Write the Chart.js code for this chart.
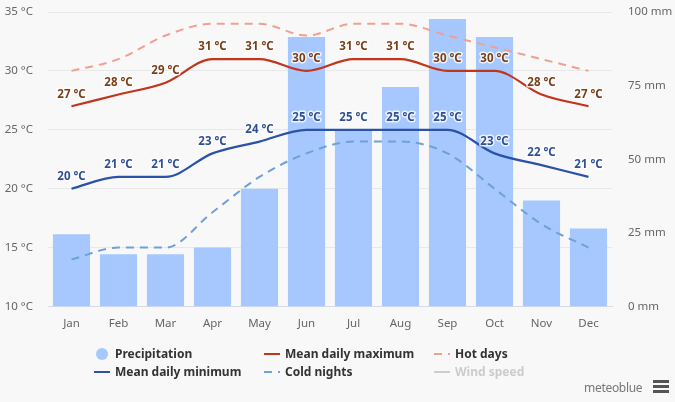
<!DOCTYPE html>
<html>
<head>
<meta charset="utf-8">
<script src="https://cdn.jsdelivr.net/npm/chart.js@4"></script>
<style>
    body { margin: 0; background: #f8f8f8; font-family: 'Noto Sans', sans-serif; }
    #wrap { position: relative; width: 675px; height: 402px; overflow: hidden; }
    canvas { position: absolute; left: 0; top: 0; }
    .item { position: absolute; height: 16px; line-height: 16px; font-size: 12px; font-weight: bold; color: #333; white-space: nowrap; }
    .item svg { position: absolute; left: -21px; top: 0; }
    .off { color: #ccc; }
    #brand { position: absolute; left: 584px; top: 379px; font: 12px 'Noto Sans', sans-serif; letter-spacing: -0.3px; color: #777; }
    #menu { position: absolute; left: 653px; top: 380px; width: 16px; height: 3px; background: #555; box-shadow: 0 5px 0 #555, 0 10px 0 #555; }
</style>
</head>
<body>
<div id="wrap">
    <canvas id="climate" width="675" height="402"></canvas>
    <div class="item" style="left:115px;top:346px"><svg width="20" height="16"><circle cx="8" cy="8" r="6" fill="#a6c8ff"/></svg>Precipitation</div>
    <div class="item" style="left:285px;top:346px"><svg width="20" height="16"><line x1="0" x2="16" y1="8" y2="8" stroke="#c0351c" stroke-width="2"/></svg>Mean daily maximum</div>
    <div class="item" style="left:455px;top:346px"><svg width="20" height="16"><line x1="0" x2="16" y1="8" y2="8" stroke="#f0a090" stroke-width="2" stroke-dasharray="8,6"/></svg>Hot days</div>
    <div class="item" style="left:115px;top:364px"><svg width="20" height="16"><line x1="0" x2="16" y1="8" y2="8" stroke="#2a52a8" stroke-width="2"/></svg>Mean daily minimum</div>
    <div class="item" style="left:285px;top:364px"><svg width="20" height="16"><line x1="0" x2="16" y1="8" y2="8" stroke="#6fa0d8" stroke-width="2" stroke-dasharray="8,6"/></svg>Cold nights</div>
    <div class="item off" style="left:455px;top:364px"><svg width="20" height="16"><line x1="0" x2="16" y1="8" y2="8" stroke="#ccc" stroke-width="2"/></svg>Wind speed</div>
    <div id="brand">meteoblue</div>
    <div id="menu"></div>
</div>
<script>
const months = ['Jan', 'Feb', 'Mar', 'Apr', 'May', 'Jun', 'Jul', 'Aug', 'Sep', 'Oct', 'Nov', 'Dec'];
const precipitation = [24.5, 17.7, 17.7, 20, 40, 91.5, 60, 74.5, 97.6, 91.5, 36, 26.5];
const meanMax = [27, 28, 29, 31, 31, 30, 31, 31, 30, 30, 28, 27];
const meanMin = [20, 21, 21, 23, 24, 25, 25, 25, 25, 23, 22, 21];
const hotDays = [30, 31, 33, 34, 34, 33, 34, 34, 33, 32, 31, 30];
const coldNights = [14, 15, 15, 18, 21, 23, 24, 24, 23, 20, 17, 15];

const tickFont = { family: "'Noto Sans', sans-serif", size: 11.5 };

function lineSet(label, data, color, dashed) {
    return {
        type: 'line',
        label: label,
        data: data,
        yAxisID: 'temp',
        borderColor: color,
        borderWidth: dashed ? 2 : 2.2,
        borderDash: dashed ? [8, 6] : [],
        cubicInterpolationMode: 'monotone',
        pointRadius: 0,
        order: dashed ? 2 : 1,
    };
}

// tick padding also counts as top padding in chart.js, so pin it here
function fitY(width) {
    return function (s) {
        s.width = width;
        s.paddingTop = 12;
        s.paddingBottom = 0;
    };
}

// value labels above the two mean lines, white halo so they read over the bars
const valueLabels = {
    id: 'valueLabels',
    afterDatasetsDraw: function (chart) {
        const ctx = chart.ctx;
        const colors = { 1: '#7a3f17', 3: '#2f4f96' };
        ctx.save();
        ctx.font = "bold 11.5px 'Noto Sans', sans-serif";
        ctx.textAlign = 'center';
        ctx.textBaseline = 'middle';
        ctx.lineJoin = 'round';
        Object.keys(colors).forEach(function (idx) {
            chart.getDatasetMeta(idx).data.forEach(function (pt, i) {
                const text = chart.data.datasets[idx].data[i] + ' °C';
                ctx.strokeStyle = 'rgba(255, 255, 255, 0.8)';
                ctx.lineWidth = 3;
                ctx.strokeText(text, pt.x, pt.y - 12);
                ctx.fillStyle = colors[idx];
                ctx.fillText(text, pt.x, pt.y - 12);
            });
        });
        ctx.restore();
    }
};

new Chart(document.getElementById('climate').getContext('2d'), {
    data: {
        labels: months,
        datasets: [
            {
                type: 'bar',
                label: 'Precipitation',
                data: precipitation,
                yAxisID: 'rain',
                backgroundColor: '#a6c8ff',
                categoryPercentage: 1,
                barPercentage: 0.79,
                order: 3,
            },
            lineSet('Mean daily maximum', meanMax, '#c0351c', false),
            lineSet('Hot days', hotDays, '#f0a090', true),
            lineSet('Mean daily minimum', meanMin, '#2a52a8', false),
            lineSet('Cold nights', coldNights, '#6fa0d8', true),
        ]
    },
    options: {
        responsive: false,
        animation: false,
        layout: { padding: 0 },
        plugins: { legend: { display: false }, tooltip: { enabled: false } },
        scales: {
            x: {
                afterFit: function (s) { s.height = 95.5; },
                grid: { display: false },
                border: { color: '#d5dce8' },
                ticks: { color: '#666', font: tickFont, padding: 2 },
            },
            temp: {
                position: 'left',
                min: 10,
                max: 35,
                afterFit: fitY(48),
                grid: { color: '#e8e8e8', drawTicks: false },
                border: { display: false },
                ticks: { stepSize: 5, color: '#666', font: tickFont, padding: 15, callback: function (v) { return v + ' °C'; } },
            },
            rain: {
                position: 'right',
                min: 0,
                max: 100,
                afterFit: fitY(63),
                grid: { display: false, drawTicks: false },
                border: { display: false },
                ticks: { stepSize: 25, color: '#666', font: tickFont, padding: 16, callback: function (v) { return v + ' mm'; } },
            },
        }
    },
    plugins: [valueLabels]
});
</script>
</body>
</html>
